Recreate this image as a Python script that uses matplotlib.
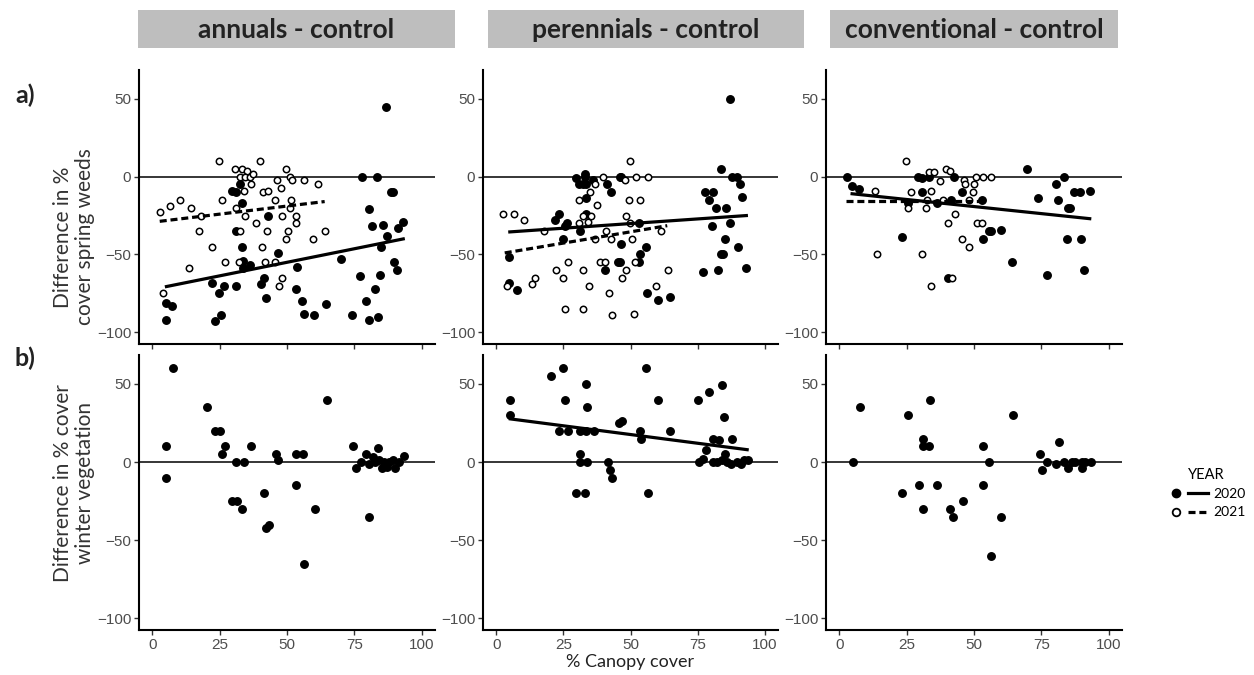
import matplotlib
matplotlib.use("Agg")
import matplotlib.pyplot as plt
from matplotlib.lines import Line2D
from matplotlib.legend_handler import HandlerTuple

# ---- data (x = % canopy cover, y = difference) ----
# a) spring weeds, annuals - control
ann_sp_x20 = [86.9, 77.9, 83.5, 88.8, 89.4, 80.5, 81.6, 85.6, 87.0, 91.3, 93.2, 85.1, 69.9, 89.8, 90.7,
              77.1, 84.5, 82.6, 79.2, 74.2, 80.3, 83.8, 29.7, 31.0, 32.6, 33.1, 31.2, 33.2, 33.5, 33.7,
              36.3, 43.1, 46.5, 53.7, 22.2, 24.7, 26.6, 31.1, 40.5, 41.3, 42.1, 53.3, 55.5, 56.3, 60.0,
              64.6, 23.3, 25.5, 5.1, 7.4, 5.1]
ann_sp_y20 = [45, 0, 0, -10, -9.6, -21, -32, -31, -38, -33, -29, -45, -53, -55, -60,
              -64, -63, -72, -80, -89, -92, -90, -9, -10, -4.7, -17, -35, -45, -54, -59,
              -57, -25, -49, -58, -68, -75, -70, -70, -69, -65, -78, -72, -80, -88, -89,
              -82, -93, -89, -81, -83, -92]
ann_sp_x21 = [24.8, 30.7, 33.3, 35.2, 39.9, 49.6, 32.5, 34.4, 36.2, 37.4, 51.0, 52.0, 46.1, 56.4, 61.6,
              36.8, 34.2, 41.0, 43.1, 47.8, 25.8, 45.4, 51.4, 10.3, 6.7, 14.3, 2.7, 18.0, 31.0, 34.4,
              48.3, 53.3, 51.0, 38.5, 53.5, 17.3, 32.5, 42.7, 50.4, 64.2, 49.8, 59.5, 22.3, 40.6, 26.9,
              32.3, 41.8, 45.5, 13.5, 48.3, 46.9, 4.0]
ann_sp_y21 = [9.8, 4.7, 4.7, 3.8, 9.8, 4.9, 0, 0, 0, 2, 0, -2, -2, -2, -5,
              -5, -9, -10, -9, -7, -15, -15, -15, -15, -19, -20, -23, -25, -20, -25,
              -25, -25, -20, -30, -30, -35, -35, -35, -35, -35, -40, -40, -45, -45, -55,
              -55, -55, -55, -59, -65, -70, -75]
ann_sp_fit20 = ([5.2, 93.2], [-70.6, -40.0])
ann_sp_fit21 = ([2.7, 64.0], [-28.7, -16.0])

# a) spring weeds, perennials - control
per_sp_x20 = [87.0, 83.9, 87.8, 89.6, 90.9, 91.6, 77.8, 80.6, 79.3, 81.7, 85.7, 87.2, 80.4, 85.1, 89.9,
              83.9, 84.6, 93.2, 77.1, 82.6, 29.6, 33.0, 33.0, 30.9, 32.2, 33.4, 36.1, 41.2, 42.9, 33.4,
              33.3, 23.2, 22.0, 26.5, 25.5, 31.2, 24.7, 46.5, 55.7, 53.5, 53.2, 45.3, 46.1, 40.5, 4.8,
              4.8, 7.5, 56.3, 60.1, 64.7, 46.0, 46.6, 53.2]
per_sp_y20 = [50, 4.7, 0, 0, -5, -13, -10, -10, -15, -20, -20, -30, -32, -40, -45,
              -50, -50, -59, -61, -60, -1, 2, 0, -5, -5, -5, -2, -5, -10, -14,
              -24, -24, -28, -30, -31.5, -35, -40, -43, -45, -50, -55, -55, -55, -60, -51.5,
              -68, -73, -75, -79, -77, 0, 0, -30]
per_sp_x21 = [49.7, 47.8, 36.7, 34.8, 30.7, 49.6, 53.4, 37.4, 2.6, 6.6, 10.2, 48.2, 32.4, 35.2, 34.2,
              30.7, 17.6, 49.7, 41.0, 42.6, 50.4, 61.5, 36.7, 26.8, 22.1, 32.4, 38.5, 40.6, 48.4, 64.1,
              51.6, 24.8, 14.3, 13.4, 4.0, 34.4, 46.8, 59.6, 41.9, 25.7, 32.4, 43.2, 51.3, 39.8, 52.2,
              56.6]
per_sp_y21 = [9.8, -2, -5, -10, -15, -15, -15, -18, -24, -24, -28, -25, -25, -25, -29,
              -30, -35, -30, -35, -40, -40, -35, -40, -55, -60, -60, -55, -55, -60, -60,
              -55, -65, -65, -69, -70, -70, -65, -70, -75, -85, -85, -89, -88, 0, 0,
              0]
per_sp_fit20 = ([5.0, 93.2], [-35.5, -25.0])
per_sp_fit21 = ([3.1, 63.7], [-49.0, -31.5])

# a) spring weeds, conventional - control
con_sp_x20 = [2.7, 4.7, 7.2, 29.3, 30.8, 33.3, 42.6, 69.7, 83.5, 80.5, 87.0, 89.3, 93.0, 73.9, 81.4,
              85.1, 85.6, 30.8, 45.7, 41.3, 36.1, 25.4, 53.1, 55.6, 56.3, 59.9, 53.3, 23.1, 84.4, 89.7,
              64.3, 77.0, 90.7, 40.2]
con_sp_y20 = [0, -6, -8, 0, -1, 0, 0, 4.7, 0, -5, -10, -10, -9, -14, -15,
              -20, -20, -10, -10, -15, -17, -17, -15, -35, -35, -34, -40, -39, -40, -40,
              -55, -63, -60, -65]
con_sp_x21 = [24.7, 39.5, 41.1, 33.3, 35.0, 46.2, 50.0, 46.6, 37.2, 50.9, 53.3, 56.3, 13.3, 26.5, 34.0,
              49.6, 32.4, 38.3, 48.1, 25.6, 32.3, 43.0, 40.2, 51.0, 53.1, 45.4, 48.1, 14.0, 30.8, 41.7,
              34.2]
con_sp_y21 = [9.8, 4.9, 3.8, 3.2, 3.2, -2, -5, -5, -3, 0, 0, 0, -9, -10, -9,
              -10, -15, -15, -15, -20, -20, -24, -30, -30, -30, -40, -45, -50, -50, -65,
              -70]
con_sp_fit20 = ([4.7, 93.0], [-11.0, -27.0])
con_sp_fit21 = ([2.5, 54.3], [-15.5, -15.5])

# b) winter vegetation (2020 only)
ann_wi_x = [7.7, 5.2, 5.2, 20.3, 23.3, 25.0, 25.8, 26.9, 31.2, 34.0, 36.6, 29.7, 31.5, 33.2, 41.5,
            42.3, 43.2, 46.0, 46.8, 53.4, 55.8, 53.5, 56.5, 60.3, 64.8, 74.7, 75.6, 77.6, 79.3, 80.5,
            80.5, 81.9, 82.6, 84.0, 84.3, 85.3, 86.0, 87.0, 88.0, 89.3, 90.1, 91.6, 93.3]
ann_wi_y = [60, 10, -10, 35, 20, 20, 5, 10, 0, 0, 10, -25, -25, -30, -20,
            -42, -40, 5, 1, 5, 5, -15, -65, -30, 40, 10, -4, 0, 5, -35,
            -1, 3, 0, 9, 1, -4, 0, -3, 0, 1, -4, 0, 4]

per_wi_x = [5.2, 5.0, 20.2, 25.0, 25.7, 23.2, 26.8, 33.4, 33.7, 31.2, 33.4, 36.4, 31.2, 31.2, 33.9,
            29.8, 33.2, 41.5, 42.2, 43.2, 45.8, 46.7, 53.5, 53.8, 55.8, 56.5, 60.1, 64.8, 75.0, 79.4,
            84.1, 84.8, 75.7, 77.1, 78.1, 80.6, 82.9, 80.9, 82.1, 84.1, 85.3, 85.9, 87.4, 88.0, 89.7,
            91.2, 92.5, 93.7]
per_wi_y = [40, 30, 55, 60, 40, 20, 20, 50, 35, 20, 20, 20, 5, 0, 0,
            -20, -20, 0, -5, -10, 25, 26, 20, 15, 60, -20, 40, 20, 40, 45,
            49, 29, 0, 2, 8, 15, 14, 0, 0, 1, 5, 0, -1, 15, 0,
            -1, 1, 1]
per_wi_fit20 = ([5.2, 93.5], [27.6, 7.9])

con_wi_x = [5.0, 7.6, 25.4, 33.6, 30.9, 30.9, 33.3, 23.3, 29.5, 31.1, 36.4, 41.2, 42.1, 45.9, 53.2,
            53.5, 55.7, 56.3, 60.0, 64.6, 74.6, 75.4, 77.3, 80.6, 81.5, 83.6, 85.1, 86.4, 87.6, 90.1,
            90.1, 91.3, 93.4]
con_wi_y = [0, 35, 30, 40, 15, 10, 10, -20, -15, -30, -15, -30, -35, -25, 10,
            -15, 0, -60, -35, 30, 5, -5, 0, -1, 13, 0, -4, 0, 0, 0,
            -4, 0, 0]

facets = ["annuals - control", "perennials - control", "conventional - control"]
row_tags = ["a)", "b)"]
row_titles = ["Difference in %\ncover spring weeds", "Difference in % cover\nwinter vegetation"]
years = ["2020", "2021"]
x_ticks = [0, 25, 50, 75, 100]
y_ticks = [-100, -50, 0, 50]

# ---- layout (pixel boxes of the 1254x675 image) ----
W, H = 1254, 675
fig = plt.figure(figsize=(W / 100, H / 100), dpi=100)


def box(x0, y0, x1, y1):
    return [x0 / W, 1 - y1 / H, (x1 - x0) / W, (y1 - y0) / H]


cols = [(139, 435), (483, 778), (826, 1122)]
rows = [(70, 344), (355, 630)]
strip_cols = [(138, 455), (488, 804), (830, 1118)]

top = [(ann_sp_x20, ann_sp_y20, ann_sp_x21, ann_sp_y21, ann_sp_fit20, ann_sp_fit21),
       (per_sp_x20, per_sp_y20, per_sp_x21, per_sp_y21, per_sp_fit20, per_sp_fit21),
       (con_sp_x20, con_sp_y20, con_sp_x21, con_sp_y21, con_sp_fit20, con_sp_fit21)]
bottom = [(ann_wi_x, ann_wi_y, None, None, None, None),
          (per_wi_x, per_wi_y, None, None, per_wi_fit20, None),
          (con_wi_x, con_wi_y, None, None, None, None)]

tick_font = dict(family="Liberation Sans", size=11, color="#4d4d4d")

for r, panels in enumerate([top, bottom]):
    for c, (x20, y20, x21, y21, f20, f21) in enumerate(panels):
        ax = fig.add_axes(box(cols[c][0], rows[r][0], cols[c][1], rows[r][1]))
        ax.axhline(0, color="black", lw=1.1, zorder=1)
        ax.plot(x20, y20, "o", ms=5.4, color="black", zorder=3)
        if x21 is not None:
            ax.plot(x21, y21, "o", ms=4.6, mfc="white", mec="black", mew=1.1, zorder=3)
        if f20 is not None:
            ax.plot(f20[0], f20[1], "-", color="black", lw=2.3, zorder=4)
        if f21 is not None:
            ax.plot(f21[0], f21[1], color="black", lw=2.3, dashes=(2.2, 1.2), zorder=4)
        ax.set_xlim(-5, 105)
        ax.set_ylim(-107.5, 68.5)
        ax.set_xticks(x_ticks)
        if r == 1:
            ax.set_xticklabels([str(v) for v in x_ticks], **tick_font)
        else:
            ax.set_xticklabels([])
        ax.set_yticks(y_ticks)
        ax.set_yticklabels([str(v).replace("-", "\u2212") for v in y_ticks], **tick_font)
        ax.tick_params(direction="out", length=3.5, width=1, color="#333333", pad=2)
        for s in ["top", "right"]:
            ax.spines[s].set_visible(False)
        for s in ["left", "bottom"]:
            ax.spines[s].set_linewidth(1.5)

# facet strips
for c, name in enumerate(facets):
    sax = fig.add_axes(box(strip_cols[c][0], 10, strip_cols[c][1], 48))
    sax.set_facecolor("#bebebe")
    sax.set_xticks([])
    sax.set_yticks([])
    for s in sax.spines.values():
        s.set_visible(False)
    sax.text(0.5, 0.47, name, ha="center", va="center", fontsize=19, fontweight="bold",
             family="Lato", color="#222222", transform=sax.transAxes)

# row tags and y titles
tag_y = [95, 358]
title_y = [237, 483]
for r in range(2):
    fig.text(25 / W, 1 - tag_y[r] / H, row_tags[r], ha="center", va="center", fontsize=18,
             fontweight="bold", family="Lato", color="#222222")
    fig.text(74 / W, 1 - title_y[r] / H, row_titles[r], ha="center", va="center", rotation=90,
             fontsize=15, family="Lato", color="#333333", linespacing=1.1)

fig.text(630 / W, 1 - 662 / H, "% Canopy cover", ha="center", va="center", fontsize=13,
         family="Lato", color="#222222")

# legend: point + line key per year
h20 = (Line2D([], [], ls="none", marker="o", ms=6, color="black"),
       Line2D([], [], ls="-", lw=2.3, color="black"))
h21 = (Line2D([], [], ls="none", marker="o", ms=5.5, mfc="white", mec="black", mew=1.3),
       Line2D([], [], lw=2.3, color="black", dashes=(2.2, 1.2)))
leg = fig.legend([h20, h21], years, title="YEAR", handler_map={tuple: HandlerTuple(ndivide=None, pad=0.2)},
                 loc="upper left", bbox_to_anchor=(1166 / W, 1 - 468 / H), frameon=False,
                 borderpad=0, borderaxespad=0, handlelength=3.0, handletextpad=0.4,
                 labelspacing=0.45, prop=dict(family="Lato", size=10))
leg.get_title().set_fontfamily("Lato")
leg.get_title().set_fontsize(10.5)

fig.savefig("out.png", dpi=100)
